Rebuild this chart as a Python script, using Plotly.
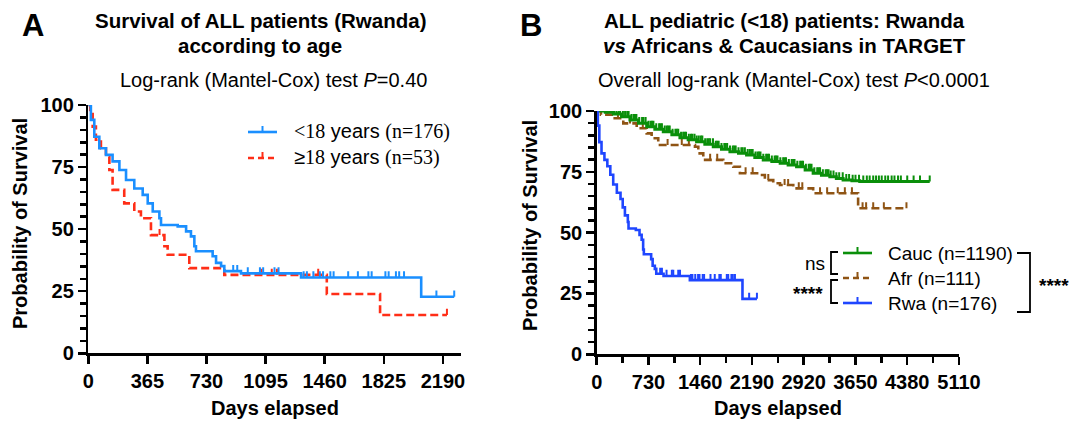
import plotly.graph_objects as go

W, H = 1077, 421

# ---------------- data ----------------
# Rwanda <18 years (also "Rwa" in panel B)
rwa_t = [0, 16, 37, 68, 109, 150, 192, 233, 284, 336, 367, 398, 439, 449, 552, 604, 634, 655, 665,
         768, 789, 820, 840, 943, 1314, 2056, 2260]
rwa_s = [100, 94, 87.2, 82.6, 79.9, 77.3, 73.8, 69.8, 66.4, 63.8, 60.4, 57.1, 54.4, 51.7, 51.1, 49.1,
         47.1, 43.1, 41.1, 39.1, 36.4, 35.1, 33.1, 32.2, 30.5, 22.8, 22.8]
rwa_cens_t = [895, 920, 985, 1060, 1080, 1150, 1175, 1330, 1350, 1390, 1430, 1450, 1495, 1515, 1605,
              1665, 1730, 1750, 1835, 1855, 1900, 1920, 1950, 2150, 2260]

# Rwanda >=18 years
adu_t = [0, 12, 27, 47, 78, 109, 130, 150, 222, 284, 325, 387, 470, 490, 624, 840, 1473, 1802, 2215]
adu_s = [100, 98, 91.3, 86, 82.6, 79.3, 73.8, 65.8, 60.4, 57.1, 54.4, 47.6, 43.1, 39.7, 34.3, 31.6,
         23.9, 15.4, 15.4]
adu_cens_t = [440, 1069, 1133, 1165, 1420, 2215]

# TARGET Caucasians
cauc_t = [0, 120, 234, 350, 469, 590, 705, 820, 939, 1060, 1174, 1290, 1409, 1525, 1644, 1760, 1879,
          2000, 2114, 2230, 2349, 2470, 2588, 2700, 2819, 2940, 3053, 3170, 3288, 3380, 3475, 3600,
          3710, 4697]
cauc_s = [100, 99.5, 98.8, 97.6, 96.3, 95, 93.5, 92.5, 91.5, 90.2, 89, 88.2, 87.4, 86.3, 85.3, 84.3,
          83.3, 82.6, 81.9, 80.9, 79.9, 79.2, 78.5, 77.8, 77.1, 75.8, 74.4, 73.6, 73.0, 72.3, 71.6,
          71.3, 71.0, 71.0]
cauc_cens_t = [20, 40, 70, 95, 130, 160, 190, 210, 250, 280, 310, 330, 370, 400, 430, 450, 490, 520,
               540, 560, 600, 640, 660, 690, 730, 760, 780, 800, 840, 880, 900, 920, 960, 990, 1010,
               1030, 1070, 1110, 1130, 1150, 1190, 1220, 1240, 1260, 1300, 1330, 1350, 1380, 1410,
               1440, 1470, 1490, 1530, 1560, 1580, 1600, 1640, 1680, 1700, 1720, 1760, 1800, 1820,
               1840, 1880, 1920, 1940, 1960, 2000, 2040, 2060, 2090, 2130, 2160, 2180, 2200, 2240,
               2270, 2290, 2310, 2350, 2390, 2410, 2430, 2470, 2510, 2530, 2550, 2590, 2630, 2650,
               2670, 2710, 2750, 2770, 2790, 2830, 2870, 2890, 2910, 2950, 2990, 3010, 3030, 3070,
               3110, 3130, 3150, 3190, 3230, 3250, 3270, 3300, 3340, 3380, 3420, 3470, 3520, 3560,
               3610, 3650, 3700, 3760, 3810, 3850, 3900, 3940, 3980, 4020, 4070, 4110, 4160, 4200,
               4250, 4290, 4380, 4470, 4560, 4697]

# TARGET Africans
afr_t = [0, 60, 234, 375, 564, 705, 775, 868, 1386, 1433, 1503, 1785, 1926, 2020, 2302, 2372, 2490,
         2585, 2772, 3053, 3687, 4369]
afr_s = [100, 98.5, 97, 94.9, 92.9, 90.8, 88.8, 86, 85.3, 82.6, 79.9, 78.5, 77.1, 74.4, 73.7, 71.6,
         70.3, 69.6, 68.2, 66.2, 60, 60]
afr_cens_t = [150, 300, 470, 650, 1000, 1200, 1300, 1600, 1700, 2100, 2200, 2420, 2650, 2700, 2850,
              2900, 3150, 3250, 3400, 3500, 3600, 3750, 3800, 3900, 4050, 4369]

xticks_a = [0, 365, 730, 1095, 1460, 1825, 2190]
xticks_b = [0, 730, 1460, 2190, 2920, 3650, 4380, 5110]
yticks = [0, 25, 50, 75, 100]

legend_a = ["<span style=\"font-family:Liberation Serif\">&lt;18</span> years "
            "<span style=\"font-family:Liberation Serif\">(n=176)</span>",
            "≥<span style=\"font-family:Liberation Serif\">18</span> years "
            "<span style=\"font-family:Liberation Serif\">(n=53)</span>"]
legend_b = ["Cauc (n=1190)", "Afr (n=111)", "Rwa (n=176)"]

# ---------------- styling ----------------
C_BLUE_A = "#1a8fff"
C_RED = "#ff2e17"
C_GREEN = "#0a8f0a"
C_BROWN = "#8f5414"
C_BLUE_B = "#1f46ff"
DASH = "8px,4px"
FONT = "Liberation Sans, Arial, sans-serif"


def X(px):
    return px / W


def Y(py):
    return 1 - py / H


def step_value(times, vals, t):
    v = vals[0]
    for tt, vv in zip(times, vals):
        if tt <= t:
            v = vv
    return v


def step_curve(t, s, color, dash, xa, ya, width=2.6):
    return go.Scatter(x=t, y=s, mode="lines", line=dict(color=color, width=width, dash=dash, shape="hv"),
                      xaxis=xa, yaxis=ya, showlegend=False, cliponaxis=False, hoverinfo="skip")


def censor(t, times, vals, color, xa, ya, h=2.5, thick=2):
    s = [step_value(times, vals, tt) for tt in t]
    return go.Scatter(x=t, y=s, mode="markers", marker=dict(size=0.1, color=color, opacity=0),
                      error_y=dict(type="constant", value=h, valueminus=0, symmetric=False, width=0,
                                   thickness=thick, color=color),
                      xaxis=xa, yaxis=ya, showlegend=False, cliponaxis=False, hoverinfo="skip")


fig = go.Figure()

# Panel A
fig.add_trace(step_curve(adu_t, adu_s, C_RED, DASH, "x", "y"))
fig.add_trace(censor(adu_cens_t, adu_t, adu_s, C_RED, "x", "y"))
fig.add_trace(step_curve(rwa_t, rwa_s, C_BLUE_A, "solid", "x", "y"))
fig.add_trace(censor(rwa_cens_t, rwa_t, rwa_s, C_BLUE_A, "x", "y"))

# Panel B
fig.add_trace(step_curve(afr_t, afr_s, C_BROWN, DASH, "x2", "y2"))
fig.add_trace(censor(afr_cens_t, afr_t, afr_s, C_BROWN, "x2", "y2"))
fig.add_trace(step_curve(cauc_t, cauc_s, C_GREEN, "solid", "x2", "y2", width=3))
fig.add_trace(censor(cauc_cens_t, cauc_t, cauc_s, C_GREEN, "x2", "y2"))
fig.add_trace(step_curve(rwa_t, rwa_s, C_BLUE_B, "solid", "x2", "y2"))
fig.add_trace(censor(rwa_cens_t, rwa_t, rwa_s, C_BLUE_B, "x2", "y2"))

axis_common = dict(showgrid=False, zeroline=False, showline=True, linecolor="black", linewidth=2.5,
                   ticks="outside", tickcolor="black", tickwidth=2.5, ticklen=8, automargin=False,
                   tickfont=dict(family=FONT, size=20, color="black", weight="bold"), fixedrange=True)
minor_y = dict(dtick=5, ticklen=6, tickwidth=2.5, tickcolor="black", ticks="outside")

fig.update_layout(
    template="none",
    width=W, height=H, margin=dict(l=0, r=0, t=0, b=0, autoexpand=False),
    paper_bgcolor="white", plot_bgcolor="white", showlegend=False,
    font=dict(family=FONT, color="black"),
    xaxis=dict(domain=[X(88.3), X(460.7)], range=[0, 2300], tickmode="array", tickvals=xticks_a,
               anchor="y", **axis_common),
    yaxis=dict(domain=[Y(353.3), Y(105)], range=[0, 100], tickmode="array", tickvals=yticks,
               anchor="x", minor=minor_y, **axis_common),
    xaxis2=dict(domain=[X(596.7), X(959)], range=[0, 5110], tickmode="array", tickvals=xticks_b,
                anchor="y2", minor=dict(dtick=365, tick0=0, ticklen=6, tickwidth=2.5, tickcolor="black",
                                        ticks="outside"), **axis_common),
    yaxis2=dict(domain=[Y(354.3), Y(111)], range=[0, 100], tickmode="array", tickvals=yticks,
                anchor="x2", minor=minor_y, **axis_common),
)

ann = []
shapes = []


def text(s, x, y, size=20, bold=False, angle=0, xanchor="center"):
    ann.append(dict(text=s, x=X(x), y=Y(y), xref="paper", yref="paper", showarrow=False,
                    xanchor=xanchor, yanchor="middle", textangle=angle,
                    font=dict(family=FONT, size=size, color="black", weight="bold" if bold else "normal")))


def seg(x0, y0, x1, y1, color, width=2.6, dash="solid"):
    shapes.append(dict(type="line", xref="paper", yref="paper", x0=X(x0), y0=Y(y0), x1=X(x1), y1=Y(y1),
                       line=dict(color=color, width=width, dash=dash)))


def legend_row(label, color, dash, xs0, xs1, xt, y, size):
    seg(xs0, y, xs1, y, color, dash=dash)
    xm = (xs0 + xs1) / 2
    seg(xm, y, xm, y - 6, color, width=2)
    text(label, xt, y, size=size, xanchor="left")


# titles
text("A", 33, 26, size=31, bold=True)
text("B", 531, 26, size=31, bold=True)
text("Survival of ALL patients (Rwanda)", 260, 20, size=20.5, bold=True)
text("according to age", 260, 45, size=20.5, bold=True)
text("Log-rank (Mantel-Cox) test <i>P</i>=0.40", 273, 80)
text("ALL pediatric (&lt;18) patients: Rwanda", 784, 20, size=20.5, bold=True)
text("<i>vs</i> Africans &amp; Caucasians in TARGET", 784, 45, size=20.5, bold=True)
text("Overall log-rank (Mantel-Cox) test <i>P</i>&lt;0.0001", 794, 80)
text("Probability of Survival", 20, 224, bold=True, angle=-90)
text("Probability of Survival", 530, 226, bold=True, angle=-90)
text("Days elapsed", 275, 408, bold=True)
text("Days elapsed", 778, 408, bold=True)

# legend A
legend_row(legend_a[0], C_BLUE_A, "solid", 248, 277, 292, 132, 20)
legend_row(legend_a[1], C_RED, "6px,4px", 248, 277, 292, 158, 20)
# legend B
legend_row(legend_b[0], C_GREEN, "solid", 843, 872, 886, 253, 19)
legend_row(legend_b[1], C_BROWN, "6px,4px", 843, 872, 886, 278, 19)
legend_row(legend_b[2], C_BLUE_B, "solid", 843, 872, 886, 303, 19)

# significance brackets
text("ns", 815, 263, size=19)
text("****", 825, 293, size=19, bold=True, xanchor="right")
text("****", 1037, 285, size=19, bold=True, xanchor="left")


def bracket(x_vert, x_arm, y0, y1):
    shapes.append(dict(type="path", xref="paper", yref="paper",
                       path=f"M {X(x_arm)},{Y(y0)} L {X(x_vert)},{Y(y0)} L {X(x_vert)},{Y(y1)} L {X(x_arm)},{Y(y1)}",
                       line=dict(color="black", width=1.8)))


bracket(831, 838, 252, 274)
bracket(831, 838, 280, 303)
bracket(1030, 1017, 253, 312)

fig.update_layout(annotations=ann, shapes=shapes)

fig.write_html("out.html", config={"displayModeBar": False, "staticPlot": True},
               post_script="document.body.style.margin='0px';document.body.style.overflow='hidden';")
